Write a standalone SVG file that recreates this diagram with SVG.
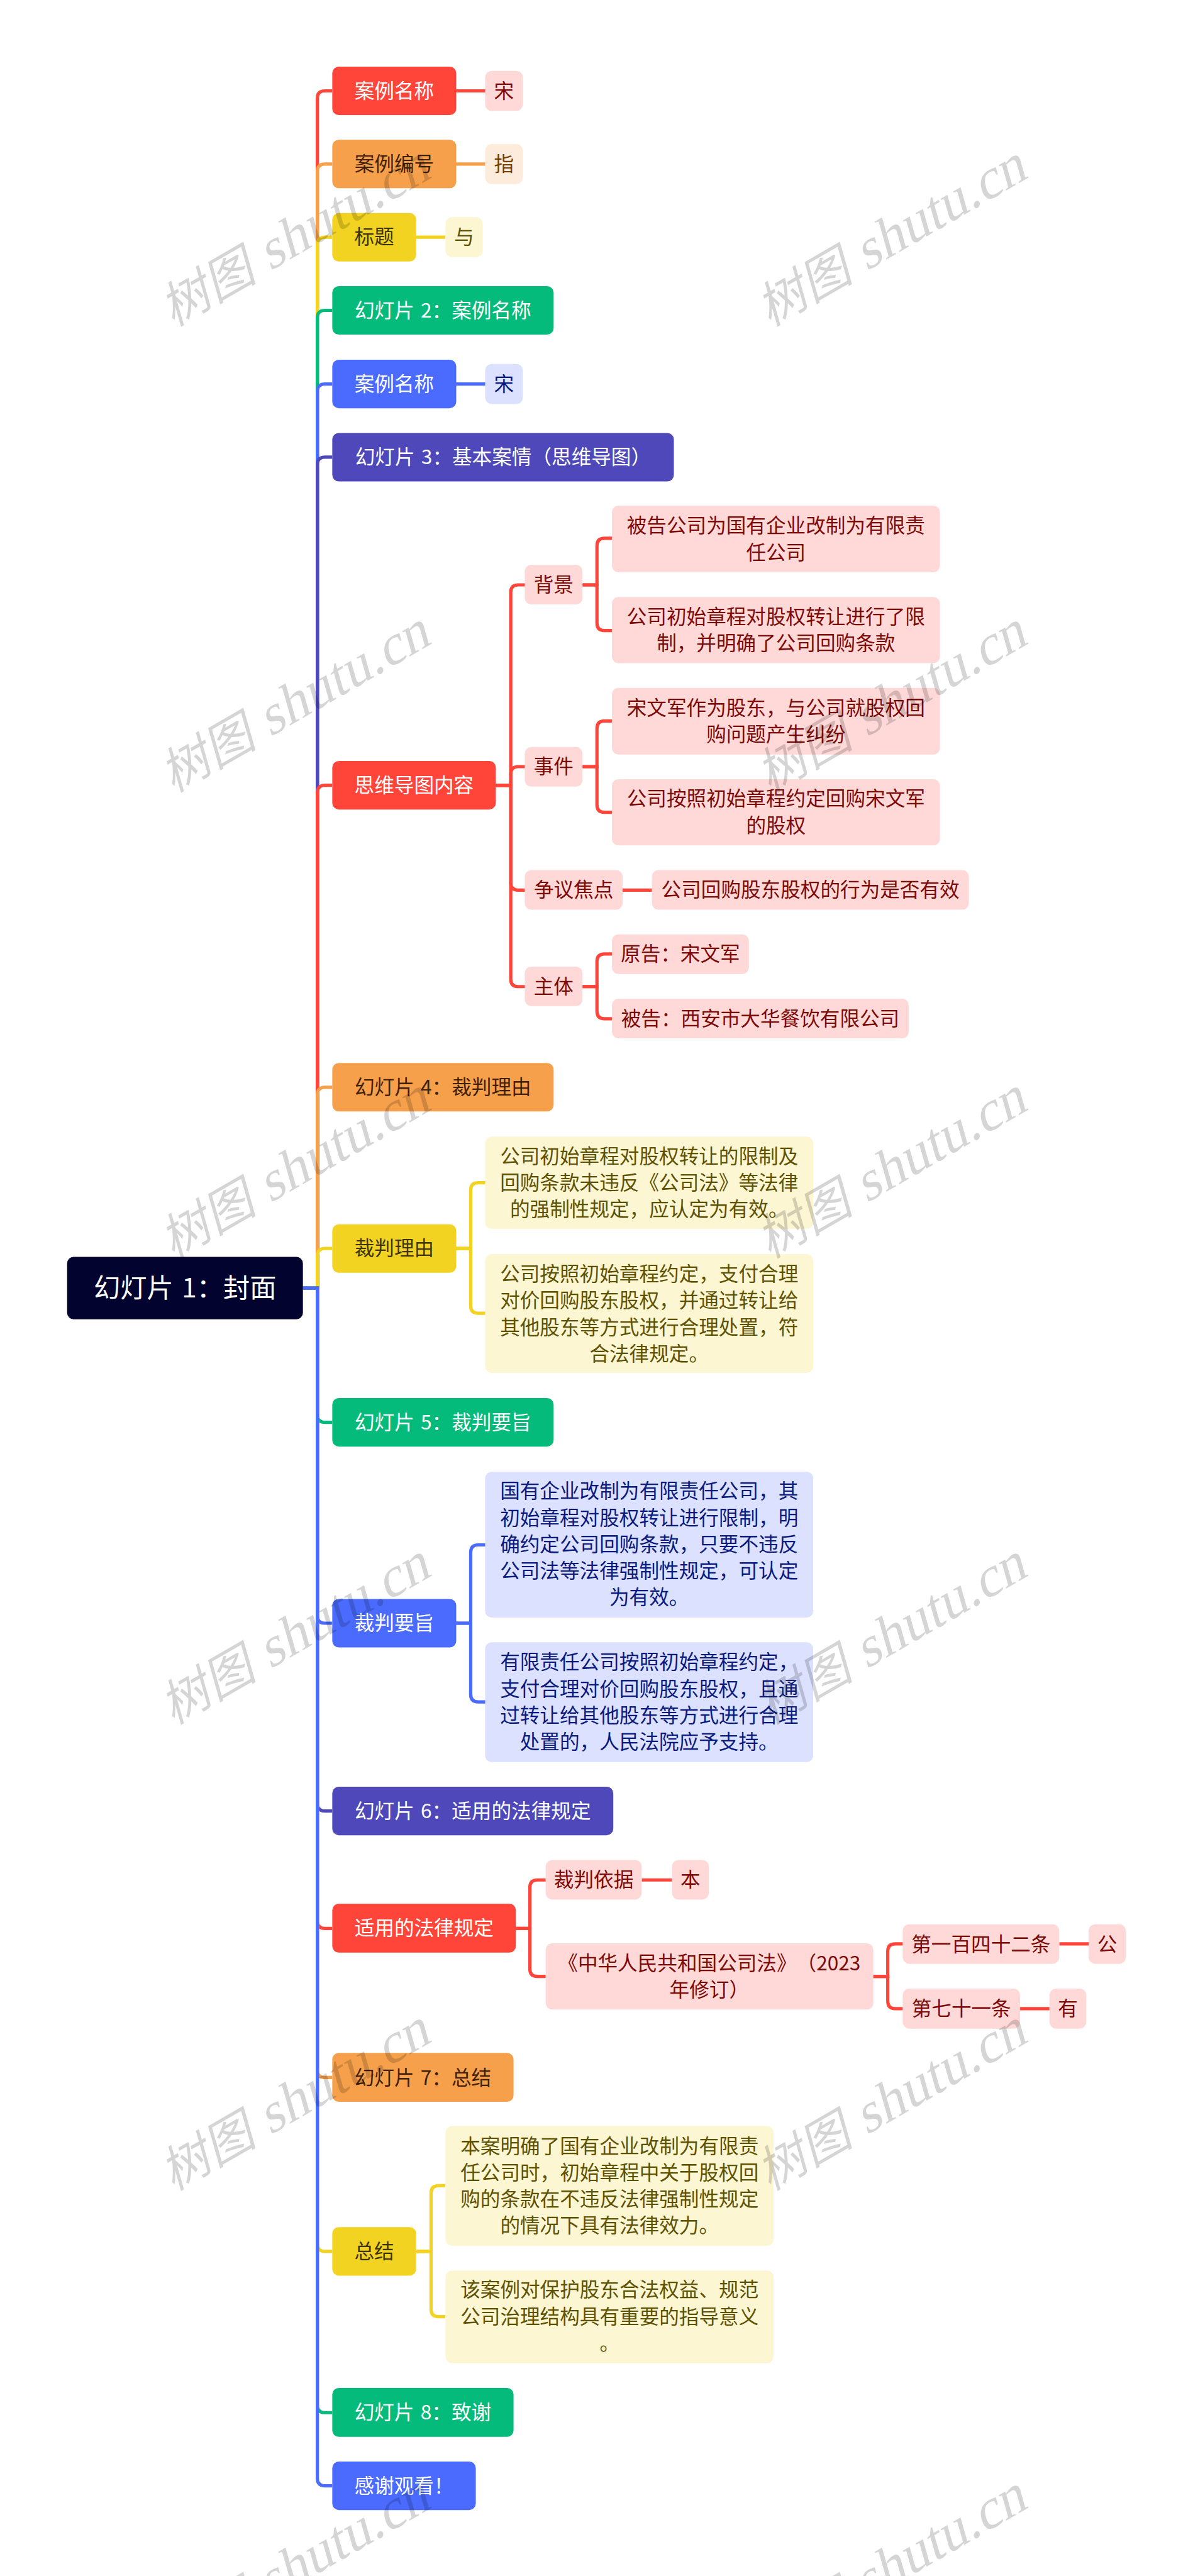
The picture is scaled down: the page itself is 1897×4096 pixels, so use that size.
<svg xmlns="http://www.w3.org/2000/svg" width="1897" height="4096" viewBox="0 0 1897 4096">
<style>
text{font-family:"Noto Sans CJK SC","Noto Sans",sans-serif;font-size:42.67px;text-anchor:middle;word-spacing:.1em;text-spacing-trim:space-all;font-feature-settings:"palt" 0,"chws" 0}
rect{stroke:none}
.c{fill:none;stroke-width:7}
.cr{stroke:#ff453a}.co{stroke:#f7a04b}.cy{stroke:#f2d321}.cg{stroke:#05bb7c}.cb{stroke:#4a6bfd}.ci{stroke:#4e48bb}
.r{fill:#ff453a}.o{fill:#f7a04b}.y{fill:#f2d321}.g{fill:#05bb7c}.b{fill:#4a6bfd}.i{fill:#4e48bb}
.lr{fill:#fed9d8}.lo{fill:#fdecdb}.ly{fill:#fcf6d3}.lb{fill:#dbe1fe}
.tw{fill:#fff}.tod{fill:#3f2100}.tyd{fill:#3d3500}
.tr{fill:#7c0a06}.to{fill:#7c3e00}.ty{fill:#5e5200}.tb{fill:#0a1a7f}
.wm text{font-family:"Liberation Serif","Noto Sans CJK SC",serif;font-size:120px;fill:#000;fill-opacity:.165;word-spacing:0}
.wm tspan{font-size:105px}
</style>
<rect width="1897" height="4096" fill="#fff"/>
<g transform="scale(0.74102)">
<g id="connectors">
<path class="c cr" d="M650 2764H681V211Q681 195 697 195H713"/>
<path class="c co" d="M650 2764H681V368Q681 352 697 352H713"/>
<path class="c cy" d="M650 2764H681V525Q681 509 697 509H713"/>
<path class="c cg" d="M650 2764H681V682Q681 666 697 666H713"/>
<path class="c cb" d="M650 2764H681V840Q681 824 697 824H713"/>
<path class="c ci" d="M650 2764H681V997Q681 981 697 981H713"/>
<path class="c cr" d="M650 2764H681V1701Q681 1685 697 1685H713"/>
<path class="c co" d="M650 2764H681V2349Q681 2333 697 2333H713"/>
<path class="c cy" d="M650 2764H681V2695Q681 2679 697 2679H713"/>
<path class="c cg" d="M650 2764H681V3036Q681 3052 697 3052H713"/>
<path class="c cb" d="M650 2764H681V3467Q681 3483 697 3483H713"/>
<path class="c ci" d="M650 2764H681V3870Q681 3886 697 3886H713"/>
<path class="c cr" d="M650 2764H681V4122Q681 4138 697 4138H713"/>
<path class="c co" d="M650 2764H681V4442Q681 4458 697 4458H713"/>
<path class="c cy" d="M650 2764H681V4815Q681 4831 697 4831H713"/>
<path class="c cg" d="M650 2764H681V5161Q681 5177 697 5177H713"/>
<path class="c cb" d="M650 2764H681V5318Q681 5334 697 5334H713"/>
<path class="c cr" d="M978 195H1042"/>
<path class="c co" d="M978 352H1042"/>
<path class="c cy" d="M893 509H956"/>
<path class="c cb" d="M978 824H1042"/>
<path class="c cr" d="M1064 1685H1096V1271Q1096 1255 1112 1255H1127"/>
<path class="c cr" d="M1064 1685H1096V1661Q1096 1645 1112 1645H1127"/>
<path class="c cr" d="M1064 1685H1096V1894Q1096 1910 1112 1910H1127"/>
<path class="c cr" d="M1064 1685H1096V2101Q1096 2117 1112 2117H1127"/>
<path class="c cr" d="M1250 1255H1281V1171Q1281 1155 1297 1155H1313"/>
<path class="c cr" d="M1250 1255H1281V1337Q1281 1353 1297 1353H1313"/>
<path class="c cr" d="M1250 1645H1281V1563Q1281 1547 1297 1547H1313"/>
<path class="c cr" d="M1250 1645H1281V1727Q1281 1743 1297 1743H1313"/>
<path class="c cr" d="M1336 1910H1399"/>
<path class="c cr" d="M1250 2117H1281V2063Q1281 2047 1297 2047H1313"/>
<path class="c cr" d="M1250 2117H1281V2170Q1281 2186 1297 2186H1313"/>
<path class="c cy" d="M978 2679H1010V2554Q1010 2538 1026 2538H1042"/>
<path class="c cy" d="M978 2679H1010V2802Q1010 2818 1026 2818H1042"/>
<path class="c cb" d="M978 3483H1010V3331Q1010 3315 1026 3315H1042"/>
<path class="c cb" d="M978 3483H1010V3636Q1010 3652 1026 3652H1042"/>
<path class="c cr" d="M1106 4138H1137V4050Q1137 4034 1153 4034H1171"/>
<path class="c cr" d="M1106 4138H1137V4225Q1137 4241 1153 4241H1171"/>
<path class="c cr" d="M1377 4034H1442"/>
<path class="c cr" d="M1873 4241H1905V4187Q1905 4171 1921 4171H1937"/>
<path class="c cr" d="M1873 4241H1905V4294Q1905 4310 1921 4310H1937"/>
<path class="c cr" d="M2273 4171H2336"/>
<path class="c cr" d="M2188 4310H2252"/>
<path class="c cy" d="M893 4831H925V4706Q925 4690 941 4690H956"/>
<path class="c cy" d="M893 4831H925V4955Q925 4971 941 4971H956"/>
</g>
<g id="root"><rect x="144" y="2697" width="506" height="134" rx="14" fill="#030330"/><text x="397" y="2784" style="font-size:57px" class="tw">幻灯片 1：封面</text></g>
<g id="n1"><rect class="r" x="713" y="143" width="266" height="104" rx="14"/><text class="tw" x="846" y="210">案例名称</text></g>
<g id="n1a"><rect class="lr" x="1041" y="152" width="81" height="86" rx="14"/><text class="tr" x="1081.5" y="210">宋</text></g>
<g id="n2"><rect class="o" x="713" y="300" width="266" height="104" rx="14"/><text class="tod" x="846" y="367">案例编号</text></g>
<g id="n2a"><rect class="lo" x="1041" y="309" width="81" height="86" rx="14"/><text class="to" x="1081.5" y="367">指</text></g>
<g id="n3"><rect class="y" x="713" y="457" width="180" height="104" rx="14"/><text class="tyd" x="803" y="524">标题</text></g>
<g id="n3a"><rect class="ly" x="956" y="466" width="80" height="86" rx="14"/><text class="ty" x="996" y="524">与</text></g>
<g id="n4"><rect class="g" x="713" y="614" width="475" height="104" rx="14"/><text class="tw" x="950.5" y="681">幻灯片 2：案例名称</text></g>
<g id="n5"><rect class="b" x="713" y="772" width="266" height="104" rx="14"/><text class="tw" x="846" y="839">案例名称</text></g>
<g id="n5a"><rect class="lb" x="1041" y="781" width="81" height="86" rx="14"/><text class="tb" x="1081.5" y="839">宋</text></g>
<g id="n6"><rect class="i" x="713" y="929" width="733" height="104" rx="14"/><text class="tw" x="1079.5" y="996">幻灯片 3：基本案情（思维导图）</text></g>
<g id="n7"><rect class="r" x="713" y="1633" width="351" height="104" rx="14"/><text class="tw" x="888.5" y="1700">思维导图内容</text></g>
<g id="n7a"><rect class="lr" x="1126" y="1212" width="124" height="85" rx="14"/><text class="tr" x="1188" y="1270">背景</text></g>
<g id="n7a1"><rect class="lr" x="1313" y="1085" width="704" height="143" rx="14"/><text class="tr" x="1665" y="1143">被告公司为国有企业改制为有限责</text><text class="tr" x="1665" y="1201">任公司</text></g>
<g id="n7a2"><rect class="lr" x="1313" y="1281" width="704" height="142" rx="14"/><text class="tr" x="1665" y="1339">公司初始章程对股权转让进行了限</text><text class="tr" x="1665" y="1396">制，并明确了公司回购条款</text></g>
<g id="n7b"><rect class="lr" x="1126" y="1603" width="124" height="85" rx="14"/><text class="tr" x="1188" y="1660">事件</text></g>
<g id="n7b1"><rect class="lr" x="1313" y="1476" width="704" height="143" rx="14"/><text class="tr" x="1665" y="1534">宋文军作为股东，与公司就股权回</text><text class="tr" x="1665" y="1591">购问题产生纠纷</text></g>
<g id="n7b2"><rect class="lr" x="1313" y="1672" width="704" height="142" rx="14"/><text class="tr" x="1665" y="1729">公司按照初始章程约定回购宋文军</text><text class="tr" x="1665" y="1787">的股权</text></g>
<g id="n7c"><rect class="lr" x="1126" y="1867" width="210" height="85" rx="14"/><text class="tr" x="1231" y="1925">争议焦点</text></g>
<g id="n7c1"><rect class="lr" x="1399" y="1867" width="680" height="85" rx="14"/><text class="tr" x="1739" y="1925">公司回购股东股权的行为是否有效</text></g>
<g id="n7d"><rect class="lr" x="1126" y="2074" width="124" height="85" rx="14"/><text class="tr" x="1188" y="2132">主体</text></g>
<g id="n7d1"><rect class="lr" x="1313" y="2005" width="294" height="85" rx="14"/><text class="tr" x="1460" y="2062">原告：宋文军</text></g>
<g id="n7d2"><rect class="lr" x="1313" y="2143" width="637" height="85" rx="14"/><text class="tr" x="1631.5" y="2201">被告：西安市大华餐饮有限公司</text></g>
<g id="n8"><rect class="o" x="713" y="2281" width="475" height="104" rx="14"/><text class="tod" x="950.5" y="2348">幻灯片 4：裁判理由</text></g>
<g id="n9"><rect class="y" x="713" y="2627" width="266" height="104" rx="14"/><text class="tyd" x="846" y="2694">裁判理由</text></g>
<g id="n9a"><rect class="ly" x="1041" y="2439" width="704" height="198" rx="14"/><text class="ty" x="1393" y="2496">公司初始章程对股权转让的限制及</text><text class="ty" x="1393" y="2553">回购条款未违反《公司法》等法律</text><text class="ty" x="1393" y="2610">的强制性规定，应认定为有效。</text></g>
<g id="n9b"><rect class="ly" x="1041" y="2691" width="704" height="255" rx="14"/><text class="ty" x="1393" y="2749">公司按照初始章程约定，支付合理</text><text class="ty" x="1393" y="2806">对价回购股东股权，并通过转让给</text><text class="ty" x="1393" y="2863">其他股东等方式进行合理处置，符</text><text class="ty" x="1393" y="2920">合法律规定。</text></g>
<g id="n10"><rect class="g" x="713" y="3000" width="475" height="104" rx="14"/><text class="tw" x="950.5" y="3067">幻灯片 5：裁判要旨</text></g>
<g id="n11"><rect class="b" x="713" y="3431" width="266" height="104" rx="14"/><text class="tw" x="846" y="3498">裁判要旨</text></g>
<g id="n11a"><rect class="lb" x="1041" y="3158" width="704" height="313" rx="14"/><text class="tb" x="1393" y="3215">国有企业改制为有限责任公司，其</text><text class="tb" x="1393" y="3272">初始章程对股权转让进行限制，明</text><text class="tb" x="1393" y="3329">确约定公司回购条款，只要不违反</text><text class="tb" x="1393" y="3386">公司法等法律强制性规定，可认定</text><text class="tb" x="1393" y="3443">为有效。</text></g>
<g id="n11b"><rect class="lb" x="1041" y="3524" width="704" height="257" rx="14"/><text class="tb" x="1393" y="3582">有限责任公司按照初始章程约定，</text><text class="tb" x="1393" y="3639">支付合理对价回购股东股权，且通</text><text class="tb" x="1393" y="3696">过转让给其他股东等方式进行合理</text><text class="tb" x="1393" y="3753">处置的，人民法院应予支持。</text></g>
<g id="n12"><rect class="i" x="713" y="3834" width="603" height="104" rx="14"/><text class="tw" x="1014.5" y="3901">幻灯片 6：适用的法律规定</text></g>
<g id="n13"><rect class="r" x="713" y="4085" width="394" height="105" rx="14"/><text class="tw" x="910" y="4153">适用的法律规定</text></g>
<g id="n13a"><rect class="lr" x="1171" y="3991" width="206" height="85" rx="14"/><text class="tr" x="1274" y="4049">裁判依据</text></g>
<g id="n13a1"><rect class="lr" x="1442" y="3991" width="79" height="85" rx="14"/><text class="tr" x="1481.5" y="4049">本</text></g>
<g id="n13b"><rect class="lr" x="1171" y="4170" width="703" height="142" rx="14"/><text class="tr" x="1522" y="4228">《中华人民共和国公司法》（2023</text><text class="tr" x="1522" y="4285">年修订）</text></g>
<g id="n13b1"><rect class="lr" x="1937" y="4129" width="336" height="85" rx="14"/><text class="tr" x="2105" y="4187">第一百四十二条</text></g>
<g id="n13b1a"><rect class="lr" x="2336" y="4129" width="80" height="85" rx="14"/><text class="tr" x="2376" y="4187">公</text></g>
<g id="n13b2"><rect class="lr" x="1937" y="4267" width="252" height="86" rx="14"/><text class="tr" x="2063" y="4325">第七十一条</text></g>
<g id="n13b2a"><rect class="lr" x="2252" y="4267" width="79" height="86" rx="14"/><text class="tr" x="2291.5" y="4325">有</text></g>
<g id="n14"><rect class="o" x="713" y="4405" width="389" height="105" rx="14"/><text class="tod" x="907.5" y="4473">幻灯片 7：总结</text></g>
<g id="n15"><rect class="y" x="713" y="4779" width="180" height="104" rx="14"/><text class="tyd" x="803" y="4846">总结</text></g>
<g id="n15a"><rect class="ly" x="956" y="4562" width="704" height="257" rx="14"/><text class="ty" x="1308" y="4620">本案明确了国有企业改制为有限责</text><text class="ty" x="1308" y="4677">任公司时，初始章程中关于股权回</text><text class="ty" x="1308" y="4734">购的条款在不违反法律强制性规定</text><text class="ty" x="1308" y="4791">的情况下具有法律效力。</text></g>
<g id="n15b"><rect class="ly" x="956" y="4872" width="704" height="199" rx="14"/><text class="ty" x="1308" y="4929">该案例对保护股东合法权益、规范</text><text class="ty" x="1308" y="4986">公司治理结构具有重要的指导意义</text><text class="ty" x="1308" y="5043">。</text></g>
<g id="n16"><rect class="g" x="713" y="5124" width="389" height="105" rx="14"/><text class="tw" x="907.5" y="5192">幻灯片 8：致谢</text></g>
<g id="n17"><rect class="b" x="713" y="5282" width="308" height="104" rx="14"/><text class="tw" x="867" y="5349">感谢观看！</text></g>
<g class="wm">
<text transform="translate(650 541) rotate(-30) skewX(-14)"><tspan>树图</tspan> shutu.cn</text>
<text transform="translate(1930 541) rotate(-30) skewX(-14)"><tspan>树图</tspan> shutu.cn</text>
<text transform="translate(650 1541) rotate(-30) skewX(-14)"><tspan>树图</tspan> shutu.cn</text>
<text transform="translate(1930 1541) rotate(-30) skewX(-14)"><tspan>树图</tspan> shutu.cn</text>
<text transform="translate(650 2541) rotate(-30) skewX(-14)"><tspan>树图</tspan> shutu.cn</text>
<text transform="translate(1930 2541) rotate(-30) skewX(-14)"><tspan>树图</tspan> shutu.cn</text>
<text transform="translate(650 3541) rotate(-30) skewX(-14)"><tspan>树图</tspan> shutu.cn</text>
<text transform="translate(1930 3541) rotate(-30) skewX(-14)"><tspan>树图</tspan> shutu.cn</text>
<text transform="translate(650 4541) rotate(-30) skewX(-14)"><tspan>树图</tspan> shutu.cn</text>
<text transform="translate(1930 4541) rotate(-30) skewX(-14)"><tspan>树图</tspan> shutu.cn</text>
<text transform="translate(650 5541) rotate(-30) skewX(-14)"><tspan>树图</tspan> shutu.cn</text>
<text transform="translate(1930 5541) rotate(-30) skewX(-14)"><tspan>树图</tspan> shutu.cn</text>
</g>
</g>
</svg>
